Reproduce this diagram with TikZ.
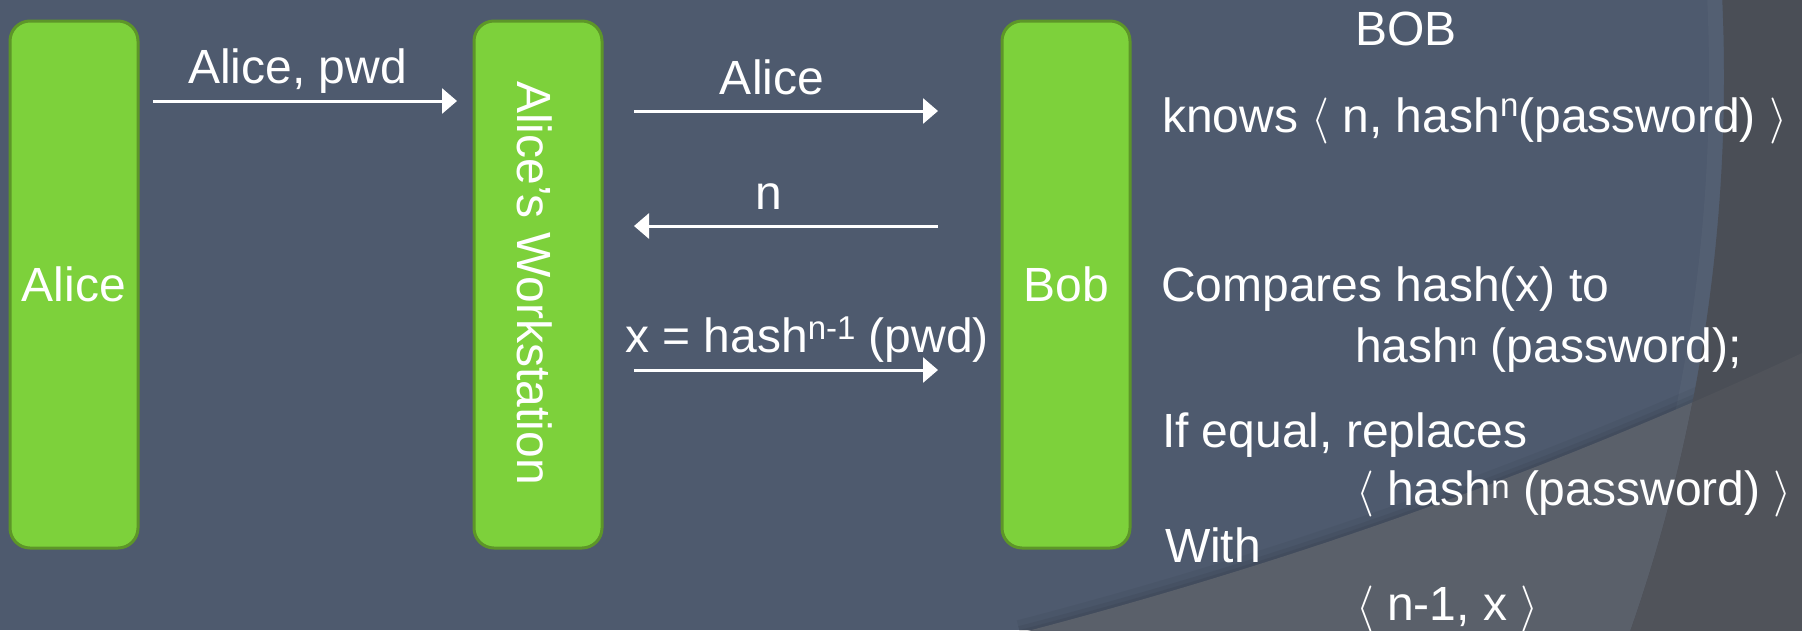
\documentclass[tikz,border=0pt]{standalone}
\usepackage{fontspec}
\setmainfont{Liberation Sans}
\usepackage{graphicx}
\usetikzlibrary{arrows.meta}

\definecolor{slate}{RGB}{78,90,110}
\definecolor{sweepgray}{RGB}{90,96,106}
\definecolor{rimgray}{RGB}{74,78,86}
\definecolor{cornergray}{RGB}{80,83,90}
\definecolor{boxfill}{RGB}{125,209,59}
\definecolor{boxline}{RGB}{93,150,40}

\newcommand\biglabel{\fontsize{48}{58}\selectfont}
\newcommand\lang{\scalebox{4.6}{\fontsize{10}{12}\selectfont$\langle$}}
\newcommand\rang{\scalebox{4.6}{\fontsize{10}{12}\selectfont$\rangle$}}
\newcommand\raised[2]{\raisebox{#1pt}{\fontsize{33}{33}\selectfont #2}}
% lower curved sweep of the backdrop
\newcommand\sweepcurve{(1020,633) .. controls (1285,564) and (1544,473.5) .. (1802,353)}

\tikzset{
  agent/.style={draw=boxline, fill=boxfill, line width=3pt, rounded corners=20pt,
    minimum width=128pt, minimum height=527pt, inner sep=0pt, outer sep=0pt,
    text=white, font=\biglabel},
  msg/.style={draw=white, line width=3pt, -{Triangle[length=15pt,width=25pt]}},
  lbl/.style={text=white, inner sep=0pt, outer sep=0pt, font=\biglabel},
}

\begin{document}
\begin{tikzpicture}[x=1pt, y=-1pt]
\useasboundingbox (0,0) rectangle (1802,630);
\clip (0,0) rectangle (1802,630);

% backdrop
\fill[slate] (0,0) rectangle (1802,630);
\draw[white, opacity=0.03, line width=30pt] (47,77) circle (1677);
\draw[black, opacity=0.04, line width=26pt] \sweepcurve;
\draw[black, opacity=0.05, line width=14pt] \sweepcurve;
\draw[black, opacity=0.05, line width=6pt] \sweepcurve;
\fill[sweepgray] \sweepcurve -- (1812,350) -- (1812,640) -- (1010,640) -- cycle;
\fill[rimgray, even odd rule] (-10,-10) rectangle (1812,640) (47,77) circle (1677);
\begin{scope}
  \clip \sweepcurve -- (1812,350) -- (1812,640) -- (1010,640) -- cycle;
  \fill[cornergray, even odd rule] (-10,-10) rectangle (1812,640) (47,77) circle (1677);
\end{scope}

% parties
\node[agent] (alice) at (74,284.5) {Alice};
\node[agent] (ws) at (538,284.5) {};
\node[lbl, rotate=-90] (wslabel) at (535,283) {Alice’s Workstation};
\node[agent] (bob) at (1066,284.5) {Bob};

% messages
\draw[msg, shorten <=15pt, shorten >=17pt] (alice.east |- 0,101) -- (ws.west |- 0,101);
\draw[msg, shorten <=32pt, shorten >=64pt] (ws.east |- 0,111) -- (bob.west |- 0,111);
\draw[msg, shorten <=64pt, shorten >=32pt] (bob.west |- 0,226) -- (ws.east |- 0,226);
\draw[msg, shorten <=32pt, shorten >=64pt] (ws.east |- 0,370) -- (bob.west |- 0,370);

\node[lbl, anchor=base] (m1) at (297.5,83) {Alice, pwd};
\node[lbl, anchor=base] (m2) at (772,94.4) {Alice};
\node[lbl, anchor=base] (m3) at (768.5,209) {n};
\node[lbl, anchor=base west] (m4) at (625,352) {x = hash\raised{13}{n-1} (pwd)};

% Bob's side of the protocol
\node[lbl, anchor=base west] (bobhead) at (1355,45) {BOB};
\node[lbl, anchor=base west] (knows) at (1162,132) {knows \lang\ n, hash\raised{16}{n}(password) \rang};
\node[lbl, anchor=base west] (cmp) at (1161,301) {Compares hash(x) to};
\node[lbl, anchor=base west] (cmpb) at (1355,362) {hash\raised{7}{n} (password);};
\node[lbl, anchor=base west] (ifeq) at (1162,447) {If equal, replaces};
\node[lbl, anchor=base west] (old) at (1356,505) {\lang\ hash\raised{7}{n} (password) \rang};
\node[lbl, anchor=base west] (with) at (1165,562) {With};
\node[lbl, anchor=base west] (new) at (1356,620) {\lang\ n-1, x \rang};
\end{tikzpicture}
\end{document}
